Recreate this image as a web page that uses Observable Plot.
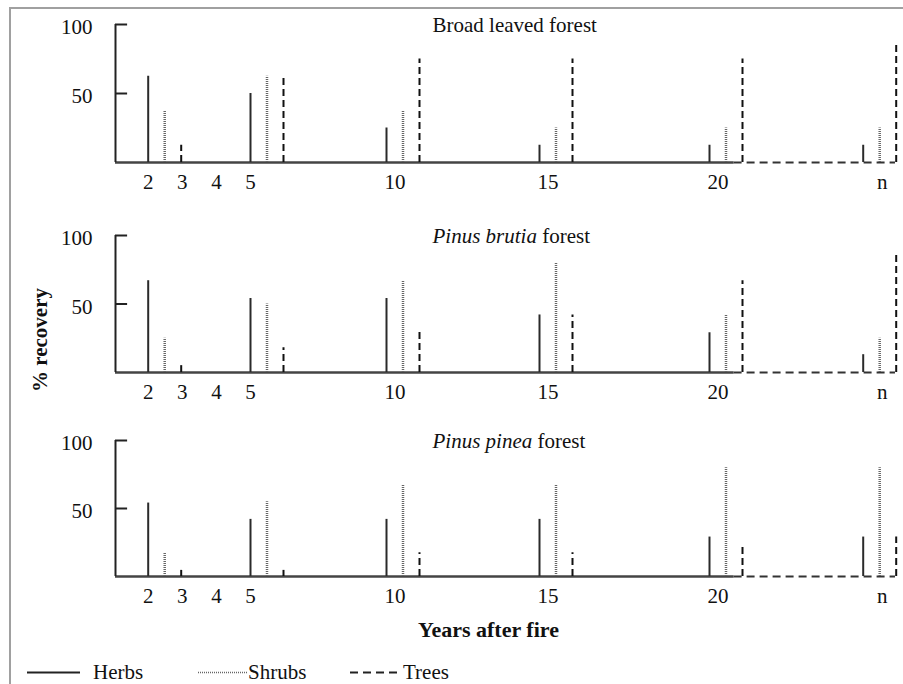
<!DOCTYPE html>
<html>
<head>
<meta charset="utf-8">
<script src="https://cdn.jsdelivr.net/npm/d3@7"></script>
<script src="https://cdn.jsdelivr.net/npm/@observablehq/plot@0.6"></script>
<style>
  html, body { margin: 0; padding: 0; background: #fff; overflow: hidden; }
  #fig { position: relative; width: 903px; height: 684px; font-family: "Liberation Serif", "DejaVu Serif", serif; color: #111; }
  #frame { position: absolute; left: 9px; top: 7px; width: 1000px; height: 800px; border-left: 2px solid #a0a0a0; border-top: 2px solid #a0a0a0; }
  .panel { position: absolute; left: 0; }
  .lbl { position: absolute; white-space: nowrap; line-height: 1; }
  #xlabel { left: 418px; top: 619px; font-size: 22px; font-weight: bold; }
  #ylabel { left: 40px; top: 340px; font-size: 21px; font-weight: bold; transform: translate(-50%, -50%) rotate(-90deg); }
</style>
</head>
<body>
<div id="fig">
  <div id="frame"></div>
  <div id="ylabel" class="lbl">% recovery</div>
  <div id="xlabel" class="lbl">Years after fire</div>
</div>
<script>
// ---- data ----
const years = [2, 5, 10, 15, 20, "n"];
const tickValues = [2, 3, 4, 5, 10, 15, 20, "n"];
const yTicks = [50, 100];
const forests = ["Broad leaved forest", "Pinus brutia forest", "Pinus pinea forest"];
const italicPart = ["", "Pinus brutia", "Pinus pinea"];
const herbs  = [[62.5, 50, 25, 12.5, 12.5, 12.5], [67, 54, 54, 42, 29, 13], [54, 42, 42, 42, 29, 29]];
const shrubs = [[37.5, 62.5, 37.5, 25, 25, 25], [25, 50, 67, 80, 42, 25], [17.5, 55, 67.5, 67.5, 80, 80]];
const trees  = [[12.5, 62.5, 75, 75, 75, 87.5], [5, 18, 30, 42, 67, 87], [4.5, 4.5, 17.5, 17.5, 22, 29]];
const seriesNames = ["Herbs", "Shrubs", "Trees"];

// ---- layout (scale configuration) ----
const nPos = 25;
const toX = d => d === "n" ? nPos : d;
const xDomain = [1, 2, 5, 10, 15, 20, 25];
const xRange = [115, 147.7, 250, 386, 539, 709, 862.7];
const panelTop = [0, 211, 416];
const innerH = [138, 137, 136];
const svgH = 205, mTop = 24;
const axisBreak = 20.8, axisEnd = 26.05;
const styles = {
  Herbs:  {stroke: "#2a2a2a", strokeWidth: 2, dash: null, dx: 0},
  Shrubs: {stroke: "#666", strokeWidth: 2.5, dash: "1,1", dx: 16.5},
  Trees:  {stroke: "#111", strokeWidth: 2, dash: "7,4", dx: 33}
};

const fig = document.getElementById("fig");
const font = "'Liberation Serif', 'DejaVu Serif', serif";

forests.forEach((title, i) => {
  const rows = years.map((yr, j) => ({x: toX(yr), Herbs: herbs[i][j], Shrubs: shrubs[i][j], Trees: trees[i][j]}));
  const barMarks = seriesNames.map(s => Plot.ruleX(rows, {
    x: "x", y1: 0, y2: s, dx: styles[s].dx,
    stroke: styles[s].stroke, strokeWidth: styles[s].strokeWidth,
    strokeDasharray: styles[s].dash
  }));
  const labA = tickValues.filter(d => d !== "n" && d <= 5);
  const labB = tickValues.filter(d => d !== "n" && d > 5);
  const labN = tickValues.filter(d => d === "n").map(toX);
  const chart = Plot.plot({
    width: 903,
    height: svgH,
    marginTop: mTop,
    marginBottom: svgH - mTop - innerH[i],
    marginLeft: 115,
    marginRight: 6,
    style: {background: "transparent", fontFamily: font, fontSize: "21px", color: "#111", overflow: "visible"},
    x: {type: "linear", domain: xDomain, range: xRange, axis: null, label: null},
    y: {domain: [0, 100], axis: null, label: null},
    marks: [
      Plot.ruleY([0], {x1: 1, x2: axisBreak, stroke: "#444", strokeWidth: 2.5}),
      Plot.ruleY([0], {x1: axisBreak, x2: axisEnd, stroke: "#333", strokeWidth: 2, strokeDasharray: "8,5"}),
      ...barMarks,
      Plot.ruleX([1], {y1: 0, y2: 100, stroke: "#222", strokeWidth: 2}),
      Plot.ruleY(yTicks, {x1: 1, x2: 1.37, stroke: "#222", strokeWidth: 2}),
      Plot.text(yTicks, {x: 1, y: d => d, text: d => String(d), textAnchor: "end", dx: -23, dy: 3, fill: "#111"}),
      Plot.axisX(labA, {tickSize: 0, tickPadding: 12, label: null, fill: "#111"}),
      Plot.axisX(labB, {tickSize: 0, tickPadding: 12, dx: 8.5, label: null, fill: "#111"}),
      Plot.axisX(labN, {tickSize: 0, tickPadding: 12, dx: 19, label: null, tickFormat: () => "n", fill: "#111"}),
      Plot.text([title], {frameAnchor: "top-left", dx: 317, dy: 1, lineAnchor: "middle", textAnchor: "start", fill: "#111"})
    ]
  });
  // italicise species names in titles
  if (italicPart[i]) {
    d3.select(chart).selectAll("text").each(function() {
      if (this.textContent === title) {
        const el = d3.select(this);
        el.text(null);
        el.append("tspan").attr("font-style", "italic").text(italicPart[i]);
        el.append("tspan").text(title.slice(italicPart[i].length));
      }
    });
  }
  chart.classList.add("panel");
  chart.style.top = panelTop[i] + "px";
  chart.style.position = "absolute";
  chart.style.left = "0px";
  fig.appendChild(chart);
});

// ---- legend ----
const legendPos = {Herbs: [27, 80, 93], Shrubs: [198, 247, 248], Trees: [350, 402, 403]};
const lg = d3.select(fig).append("svg")
  .attr("id", "legend").attr("width", 903).attr("height", 34)
  .style("position", "absolute").style("left", "0px").style("top", "650px");
seriesNames.forEach(s => {
  const [a, b, t] = legendPos[s];
  lg.append("line").attr("x1", a).attr("x2", b).attr("y1", 22.5).attr("y2", 22.5)
    .attr("stroke", s === "Shrubs" ? "#666" : "#222")
    .attr("stroke-width", s === "Shrubs" ? 1.5 : 2)
    .attr("stroke-dasharray", s === "Herbs" ? null : (s === "Shrubs" ? "1,1" : "8,5"));
  lg.append("text").attr("x", t).attr("y", 29).attr("font-family", font).attr("font-size", 21)
    .attr("fill", "#111").text(s);
});
</script>
</body>
</html>
